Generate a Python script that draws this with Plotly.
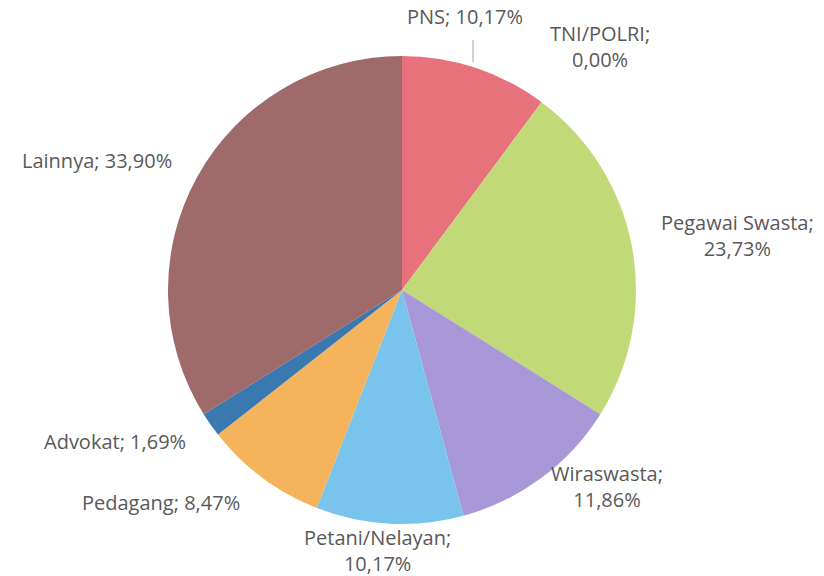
import plotly.graph_objects as go

categories = ["PNS", "TNI/POLRI", "Pegawai Swasta", "Wiraswasta", "Petani/Nelayan",
              "Pedagang", "Advokat", "Lainnya"]
values = [10.17, 0.00, 23.73, 11.86, 10.17, 8.47, 1.69, 33.90]
colors = ["#e8727c", "#e8727c", "#c2d978", "#a898d8", "#78c4ec", "#f5b45c", "#3a78b0", "#9e6a6a"]

# label text split into lines as in the reference
line_breaks = [False, True, True, True, True, False, False, False]
# label centre positions in pixels (x, y)
label_pos = [(465, 16), (600, 46), (737, 235), (607, 486), (377, 550), (161, 502), (115, 441), (97, 160)]

W, H = 824, 576
cx, cy, r = 402, 290, 234

fig = go.Figure(go.Pie(
    labels=categories, values=values, sort=False, direction="clockwise", rotation=0,
    marker=dict(colors=colors, line=dict(width=0)),
    textinfo="none", hoverinfo="label+percent", showlegend=False,
    domain=dict(x=[(cx - r) / W, (cx + r) / W], y=[1 - (cy + r) / H, 1 - (cy - r) / H]),
))

annotations = []
for cat, v, br, (px, py) in zip(categories, values, line_breaks, label_pos):
    pct = f"{v:.2f}".replace(".", ",") + "%"
    txt = f"{cat};<br>{pct}" if br else f"{cat}; {pct}"
    annotations.append(dict(
        x=px / W, y=1 - py / H, xref="paper", yref="paper", text=txt, showarrow=False,
        xanchor="center", yanchor="middle", align="center",
        font=dict(family="Open Sans", size=20, color="#595959"),
    ))

fig.update_layout(
    width=W, height=H, margin=dict(l=0, r=0, t=0, b=0),
    paper_bgcolor="white", plot_bgcolor="white",
    annotations=annotations,
    shapes=[dict(type="line", xref="paper", yref="paper",
                 x0=473 / W, x1=473 / W, y0=1 - 40 / H, y1=1 - 62 / H,
                 line=dict(color="#a6a6a6", width=1))],
)

fig.write_html("out.html")
